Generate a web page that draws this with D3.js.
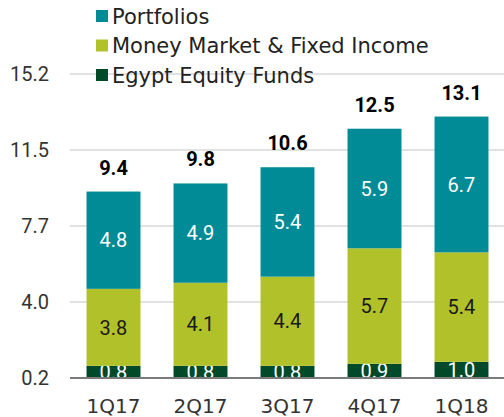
<!DOCTYPE html>
<html><head><meta charset="utf-8">
<script src="https://cdn.jsdelivr.net/npm/d3@7"></script>
<style>body{margin:0;background:#fff;} svg{display:block;}</style>
</head><body>
<svg id="chart" width="504" height="417"></svg>
<script>
const categories = ["1Q17","2Q17","3Q17","4Q17","1Q18"];
const seriesNames = ["Egypt Equity Funds","Money Market & Fixed Income","Portfolios"];
const egyptEquity = [0.8,0.8,0.8,0.9,1.0];
const moneyMarket = [3.8,4.1,4.4,5.7,5.4];
const portfolios = [4.8,4.9,5.4,5.9,6.7];
const totals = [9.4,9.8,10.6,12.5,13.1];
const yTicks = [0.2,3.95,7.7,11.45,15.2];
const yTickLabels = ["0.2","4.0","7.7","11.5","15.2"];
const colors = ["#004a2a","#b1c12a","#008b96"];
const labelColors = ["#ffffff","#1a1a1a","#ffffff"];
const TXT = "'DejaVu Sans', sans-serif";
const NUM = "Roboto, sans-serif";

const svg = d3.select("#chart");
const pLeft = 70, pRight = 505, pTop = 74, pBottom = 378;
const x = d3.scaleBand().domain(categories).range([pLeft,pRight]).paddingInner(0.38).paddingOuter(0.19);
const y = d3.scaleLinear().domain([0.2,15.2]).range([pBottom,pTop]);

const rows = categories.map((c,i)=>({cat:c, "Egypt Equity Funds":egyptEquity[i], "Money Market & Fixed Income":moneyMarket[i], "Portfolios":portfolios[i], total:totals[i]}));
const stacked = d3.stack().keys(seriesNames)(rows);

svg.append("defs").append("clipPath").attr("id","plotclip")
  .append("rect").attr("x",pLeft).attr("y",0).attr("width",pRight-pLeft).attr("height",pBottom);

// gridlines
svg.append("g").selectAll("line").data(yTicks.slice(1)).join("line")
  .attr("x1",pLeft).attr("x2",504).attr("y1",d=>y(d)).attr("y2",d=>y(d))
  .attr("stroke","#d9d9d9").attr("stroke-width",1.5);

// y tick labels
svg.append("g").selectAll("text").data(yTicks).join("text")
  .attr("x",49).attr("y",d=>y(d)).attr("dy","0.36em").attr("text-anchor","end")
  .attr("font-family",NUM).attr("font-size",20).attr("fill","#333")
  .text((d,i)=>yTickLabels[i]);

const g = svg.append("g").attr("clip-path","url(#plotclip)");
stacked.forEach((s,si)=>{
  g.append("g").selectAll("rect").data(s).join("rect")
    .attr("x",d=>x(d.data.cat)).attr("width",x.bandwidth())
    .attr("y",d=>y(d[1])).attr("height",d=>y(d[0])-y(d[1]))
    .attr("fill",colors[si]);
  g.append("g").selectAll("text").data(s).join("text")
    .attr("x",d=>x(d.data.cat)+x.bandwidth()/2)
    .attr("y",d=>(y(Math.max(d[0],0.2))+y(d[1]))/2).attr("dy","0.36em")
    .attr("text-anchor","middle").attr("font-family",NUM).attr("font-size",20)
    .attr("fill",labelColors[si]).text(d=>(d[1]-d[0]).toFixed(1));
});

// axis line
svg.append("line").attr("x1",pLeft).attr("x2",504).attr("y1",pBottom).attr("y2",pBottom)
  .attr("stroke","#7a7a7a").attr("stroke-width",2);

// totals
svg.append("g").selectAll("text").data(rows).join("text")
  .attr("x",d=>x(d.cat)+x.bandwidth()/2).attr("y",d=>y(d.total)-17)
  .attr("text-anchor","middle").attr("font-family",NUM).attr("font-size",20)
  .attr("font-weight","bold").attr("fill","#000").text(d=>d.total.toFixed(1));

// x labels
svg.append("g").selectAll("text").data(categories).join("text")
  .attr("x",d=>x(d)+x.bandwidth()/2).attr("y",406).attr("dy","0.36em")
  .attr("text-anchor","middle").attr("font-family",TXT).attr("font-size",20)
  .attr("fill","#333").text(d=>d);

// legend
const legendOrder = ["Portfolios","Money Market & Fixed Income","Egypt Equity Funds"];
const legendColors = [colors[2],colors[1],colors[0]];
const lg = svg.append("g").selectAll("g").data(legendOrder).join("g")
  .attr("transform",(d,i)=>`translate(96,${16+i*29.5})`);
lg.append("rect").attr("x",0).attr("y",-6).attr("width",12).attr("height",12).attr("fill",(d,i)=>legendColors[i]);
lg.append("text").attr("x",16).attr("y",0).attr("dy","0.36em").attr("font-family",TXT)
  .attr("font-size",21).attr("fill","#222").text(d=>d);
</script>
</body></html>
